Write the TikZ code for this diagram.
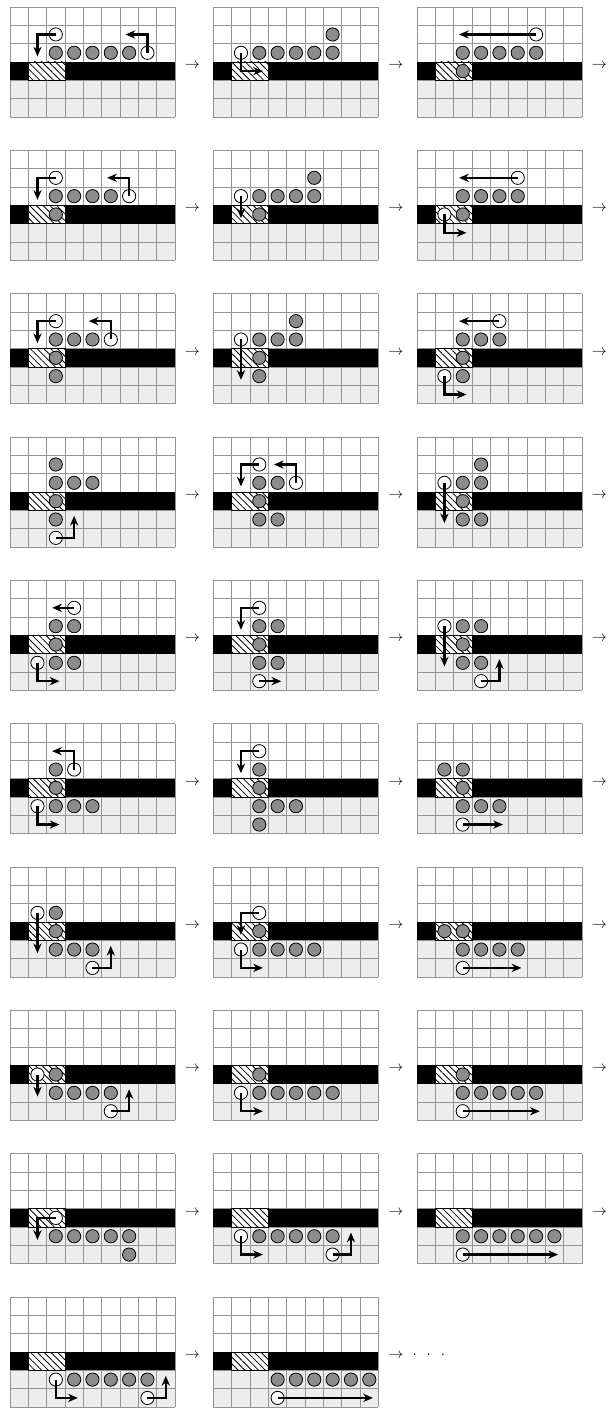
\documentclass[tikz,border=0pt]{standalone}
\usetikzlibrary{patterns.meta,arrows.meta}

\newcommand{\board}{%
  \begin{scope}[shift={(-0.5,-0.5)}]
    \fill[black!7] (0,0) rectangle (9,2);
    \draw[cell,step=4.3mm] (0,0) grid (9,6);
    \fill[black] (0,2) rectangle (9,3);
    \fill[white] (1,2) rectangle (3,3);
    \draw[hatch] (1,2) rectangle (3,3);
  \end{scope}}
\newcommand{\stones}[1]{\foreach \x/\y in {#1} \draw[stone] (\x,\y) circle (1.55mm);}
\newcommand{\holes}[1]{\foreach \x/\y in {#1} \draw[hole] (\x,\y) circle (1.55mm);}

\begin{document}
\begin{tikzpicture}[>={Stealth[length=6.5pt,width=5.5pt]},x=4.3mm,y=4.3mm]
    \tikzset{
        cell/.style={draw=black!42,line width=0.45pt},
        hatch/.style={
            draw=black,
            line width=0.4pt,
            pattern={Lines[angle=-45,distance=3.2pt,line width=0.55pt]}
        },
        stone/.style={draw=black,line width=0.55pt,fill=black!45},
        hole/.style={draw=black,line width=0.55pt,fill=white},
        move/.style={->,line width=1.5pt},
        arrowtext/.style={anchor=base,inner sep=0pt},
        panel/.style 2 args={shift={({1.045+11.1*#2},{-5.88-7.82*#1})}}
    }
    \useasboundingbox (0,0) rectangle (33.22,-76.92);

    \begin{scope}[panel={0}{0}]
        \board
        \stones{2/3,3/3,4/3,5/3,6/3}
        \holes{7/3,2/4}
        \draw[move] (7,3) -- (7,4) -- (5.8,4);
        \draw[move] (2,4) -- (1,4) -- (1,2.8);
        \node[arrowtext] (to1) at (9.45,2.15) {$\rightarrow$};
    \end{scope}
    \begin{scope}[panel={0}{1}]
        \board
        \stones{2/3,3/3,4/3,5/3,6/3,6/4}
        \holes{1/3}
        \draw[move] (1,3) -- (1,2) -- (2.2,2);
        \node[arrowtext] (to2) at (9.45,2.15) {$\rightarrow$};
    \end{scope}
    \begin{scope}[panel={0}{2}]
        \board
        \stones{2/3,3/3,4/3,5/3,6/3,2/2}
        \holes{6/4}
        \draw[move] (6,4) -- (1.8,4);
        \node[arrowtext] (to3) at (9.45,2.15) {$\rightarrow$};
    \end{scope}

    \begin{scope}[panel={1}{0}]
        \board
        \stones{2/3,3/3,4/3,5/3,2/2}
        \holes{6/3,2/4}
        \draw[move] (6,3) -- (6,4) -- (4.8,4);
        \draw[move] (2,4) -- (1,4) -- (1,2.8);
        \node[arrowtext] (to4) at (9.45,2.15) {$\rightarrow$};
    \end{scope}
    \begin{scope}[panel={1}{1}]
        \board
        \stones{2/3,3/3,4/3,5/3,5/4,2/2}
        \holes{1/3}
        \draw[move] (1,3) -- (1,1.8);
        \node[arrowtext] (to5) at (9.45,2.15) {$\rightarrow$};
    \end{scope}
    \begin{scope}[panel={1}{2}]
        \board
        \stones{2/3,3/3,4/3,5/3,2/2}
        \holes{5/4,1/2}
        \draw[move] (5,4) -- (1.8,4);
        \draw[move] (1,2) -- (1,1) -- (2.2,1);
        \node[arrowtext] (to6) at (9.45,2.15) {$\rightarrow$};
    \end{scope}

    \begin{scope}[panel={2}{0}]
        \board
        \stones{2/3,3/3,4/3,2/2,2/1}
        \holes{2/4,5/3}
        \draw[move] (2,4) -- (1,4) -- (1,2.8);
        \draw[move] (5,3) -- (5,4) -- (3.8,4);
        \node[arrowtext] (to7) at (9.45,2.15) {$\rightarrow$};
    \end{scope}
    \begin{scope}[panel={2}{1}]
        \board
        \stones{4/4,2/3,3/3,4/3,2/2,2/1}
        \holes{1/3}
        \draw[move] (1,3) -- (1,0.8);
        \node[arrowtext] (to8) at (9.45,2.15) {$\rightarrow$};
    \end{scope}
    \begin{scope}[panel={2}{2}]
        \board
        \stones{2/3,3/3,4/3,2/2,2/1}
        \holes{4/4,1/1}
        \draw[move] (4,4) -- (1.8,4);
        \draw[move] (1,1) -- (1,0) -- (2.2,0);
        \node[arrowtext] (to9) at (9.45,2.15) {$\rightarrow$};
    \end{scope}

    \begin{scope}[panel={3}{0}]
        \board
        \stones{2/4,2/3,3/3,4/3,2/2,2/1}
        \holes{2/0}
        \draw[move] (2,0) -- (3,0) -- (3,1.2);
        \node[arrowtext] (to10) at (9.45,2.15) {$\rightarrow$};
    \end{scope}
    \begin{scope}[panel={3}{1}]
        \board
        \stones{2/3,3/3,2/2,2/1,3/1}
        \holes{2/4,4/3}
        \draw[move] (2,4) -- (1,4) -- (1,2.8);
        \draw[move] (4,3) -- (4,4) -- (2.8,4);
        \node[arrowtext] (to11) at (9.45,2.15) {$\rightarrow$};
    \end{scope}
    \begin{scope}[panel={3}{2}]
        \board
        \stones{3/4,2/3,3/3,2/2,2/1,3/1}
        \holes{1/3}
        \draw[move] (1,3) -- (1,0.8);
        \node[arrowtext] (to12) at (9.45,2.15) {$\rightarrow$};
    \end{scope}

    \begin{scope}[panel={4}{0}]
        \board
        \stones{2/3,3/3,2/2,2/1,3/1}
        \holes{3/4,1/1}
        \draw[move] (3,4) -- (1.8,4);
        \draw[move] (1,1) -- (1,0) -- (2.2,0);
        \node[arrowtext] (to13) at (9.45,2.15) {$\rightarrow$};
    \end{scope}
    \begin{scope}[panel={4}{1}]
        \board
        \stones{2/3,3/3,2/2,2/1,3/1}
        \holes{2/4,2/0}
        \draw[move] (2,4) -- (1,4) -- (1,2.8);
        \draw[move] (2,0) -- (3.2,0);
        \node[arrowtext] (to14) at (9.45,2.15) {$\rightarrow$};
    \end{scope}
    \begin{scope}[panel={4}{2}]
        \board
        \stones{2/3,3/3,2/2,2/1,3/1}
        \holes{1/3,3/0}
        \draw[move] (1,3) -- (1,0.8);
        \draw[move] (3,0) -- (4,0) -- (4,1.2);
        \node[arrowtext] (to15) at (9.45,2.15) {$\rightarrow$};
    \end{scope}

    \begin{scope}[panel={5}{0}]
        \board
        \stones{2/3,2/2,2/1,3/1,4/1}
        \holes{3/3,1/1}
        \draw[move] (3,3) -- (3,4) -- (1.8,4);
        \draw[move] (1,1) -- (1,0) -- (2.2,0);
        \node[arrowtext] (to16) at (9.45,2.15) {$\rightarrow$};
    \end{scope}
    \begin{scope}[panel={5}{1}]
        \board
        \stones{2/3,2/2,2/1,3/1,4/1,2/0}
        \holes{2/4}
        \draw[move] (2,4) -- (1,4) -- (1,2.8);
        \node[arrowtext] (to17) at (9.45,2.15) {$\rightarrow$};
    \end{scope}
    \begin{scope}[panel={5}{2}]
        \board
        \stones{1/3,2/3,2/2,2/1,3/1,4/1}
        \holes{2/0}
        \draw[move] (2,0) -- (4.2,0);
        \node[arrowtext] (to18) at (9.45,2.15) {$\rightarrow$};
    \end{scope}

    \begin{scope}[panel={6}{0}]
        \board
        \stones{2/3,2/2,2/1,3/1,4/1}
        \holes{1/3,4/0}
        \draw[move] (1,3) -- (1,0.8);
        \draw[move] (4,0) -- (5,0) -- (5,1.2);
        \node[arrowtext] (to19) at (9.45,2.15) {$\rightarrow$};
    \end{scope}
    \begin{scope}[panel={6}{1}]
        \board
        \stones{2/2,2/1,3/1,4/1,5/1}
        \holes{2/3,1/1}
        \draw[move] (2,3) -- (1,3) -- (1,1.8);
        \draw[move] (1,1) -- (1,0) -- (2.2,0);
        \node[arrowtext] (to20) at (9.45,2.15) {$\rightarrow$};
    \end{scope}
    \begin{scope}[panel={6}{2}]
        \board
        \stones{1/2,2/2,2/1,3/1,4/1,5/1}
        \holes{2/0}
        \draw[move] (2,0) -- (5.2,0);
        \node[arrowtext] (to21) at (9.45,2.15) {$\rightarrow$};
    \end{scope}

    \begin{scope}[panel={7}{0}]
        \board
        \stones{2/2,2/1,3/1,4/1,5/1}
        \holes{1/2,5/0}
        \draw[move] (1,2) -- (1,0.8);
        \draw[move] (5,0) -- (6,0) -- (6,1.2);
        \node[arrowtext] (to22) at (9.45,2.15) {$\rightarrow$};
    \end{scope}
    \begin{scope}[panel={7}{1}]
        \board
        \stones{2/2,2/1,3/1,4/1,5/1,6/1}
        \holes{1/1}
        \draw[move] (1,1) -- (1,0) -- (2.2,0);
        \node[arrowtext] (to23) at (9.45,2.15) {$\rightarrow$};
    \end{scope}
    \begin{scope}[panel={7}{2}]
        \board
        \stones{2/2,2/1,3/1,4/1,5/1,6/1}
        \holes{2/0}
        \draw[move] (2,0) -- (6.2,0);
        \node[arrowtext] (to24) at (9.45,2.15) {$\rightarrow$};
    \end{scope}

    \begin{scope}[panel={8}{0}]
        \board
        \stones{2/1,3/1,4/1,5/1,6/1,6/0}
        \holes{2/2}
        \draw[move] (2,2) -- (1,2) -- (1,0.8);
        \node[arrowtext] (to25) at (9.45,2.15) {$\rightarrow$};
    \end{scope}
    \begin{scope}[panel={8}{1}]
        \board
        \stones{2/1,3/1,4/1,5/1,6/1}
        \holes{1/1,6/0}
        \draw[move] (1,1) -- (1,0) -- (2.2,0);
        \draw[move] (6,0) -- (7,0) -- (7,1.2);
        \node[arrowtext] (to26) at (9.45,2.15) {$\rightarrow$};
    \end{scope}
    \begin{scope}[panel={8}{2}]
        \board
        \stones{2/1,3/1,4/1,5/1,6/1,7/1}
        \holes{2/0}
        \draw[move] (2,0) -- (7.2,0);
        \node[arrowtext] (to27) at (9.45,2.15) {$\rightarrow$};
    \end{scope}

    \begin{scope}[panel={9}{0}]
        \board
        \stones{3/1,4/1,5/1,6/1,7/1}
        \holes{2/1,7/0}
        \draw[move] (2,1) -- (2,0) -- (3.2,0);
        \draw[move] (7,0) -- (8,0) -- (8,1.2);
        \node[arrowtext] (to28) at (9.45,2.15) {$\rightarrow$};
    \end{scope}
    \begin{scope}[panel={9}{1}]
        \board
        \stones{3/1,4/1,5/1,6/1,7/1,8/1}
        \holes{3/0}
        \draw[move] (3,0) -- (8.2,0);
        \node[arrowtext] (to29) at (9.45,2.15) {$\rightarrow$};
        \node[arrowtext] (etc) at (11.25,2.15) {$\cdot\mkern8mu\cdot\mkern8mu\cdot$};
    \end{scope}
\end{tikzpicture}
\end{document}
